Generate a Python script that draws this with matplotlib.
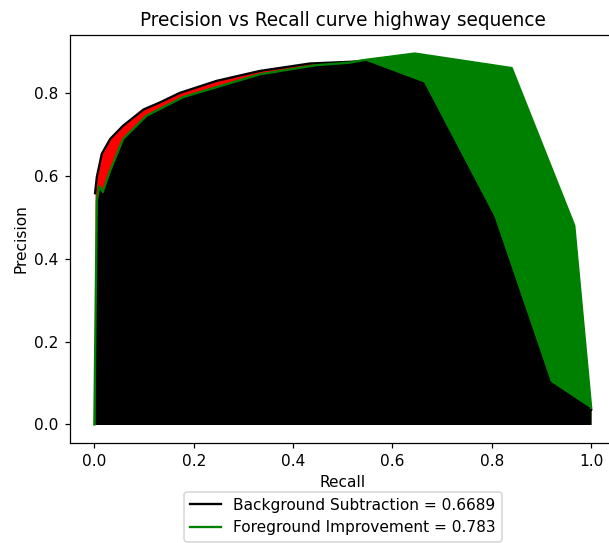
import matplotlib
matplotlib.use("Agg")
import matplotlib.pyplot as plt
from matplotlib.patches import Polygon
import numpy as np

# curva de fondo (background subtraction)
recall_bg = [0.0014, 0.005, 0.015, 0.032, 0.058, 0.099, 0.132, 0.172, 0.246,
             0.333, 0.434, 0.514, 0.541, 0.662, 0.803, 0.917, 1.0]
precision_bg = [0.558, 0.597, 0.653, 0.689, 0.721, 0.760, 0.777, 0.800, 0.829,
                0.853, 0.871, 0.875, 0.877, 0.823, 0.501, 0.101, 0.035]

# curva mejorada (foreground improvement)
recall_fg = [0.0, 0.005, 0.010, 0.017, 0.032, 0.058, 0.105, 0.179, 0.333,
             0.447, 0.514, 0.541, 0.645, 0.840, 0.966, 1.0]
precision_fg = [0.0, 0.540, 0.575, 0.561, 0.613, 0.689, 0.745, 0.790, 0.845,
                0.867, 0.873, 0.879, 0.895, 0.860, 0.480, 0.040]

auc_bg = 0.6689
auc_fg = 0.783

dpi = 111
fig = plt.figure(figsize=(609/dpi, 543/dpi), dpi=dpi)
ax = fig.add_axes([69.5/609, 100/543, 546.5/609, 408/543])

ax.fill_between(recall_bg, precision_bg, color='red', linewidth=0, antialiased=False)
ax.fill_between(recall_fg, precision_fg, color='green', linewidth=0, antialiased=False)
# zona comun: bajo las dos curvas (recorte con el area de la curva mejorada)
clip_verts = list(zip(recall_fg, precision_fg)) + [(recall_fg[-1], -1), (recall_fg[0], -1)]
clip = Polygon(clip_verts, closed=True, transform=ax.transData)
black = ax.fill_between(recall_bg, precision_bg, color='black', linewidth=0, antialiased=False)
black.set_clip_path(clip)

ax.plot(recall_bg, precision_bg, color='black', lw=1.5,
        label='Background Subtraction = %s' % auc_bg)
ax.plot(recall_fg, precision_fg, color='green', lw=1.5,
        label='Foreground Improvement = %s' % auc_fg)

ax.set_title('Precision vs Recall curve highway sequence')
ax.set_xlabel('Recall')
ax.set_ylabel('Precision')
ax.set_xticks([0.0, 0.2, 0.4, 0.6, 0.8, 1.0])
ax.set_yticks([0.0, 0.2, 0.4, 0.6, 0.8])
ax.legend(loc='upper center', bbox_to_anchor=(0.5, -0.1))

fig.savefig('out.png', dpi=dpi)
